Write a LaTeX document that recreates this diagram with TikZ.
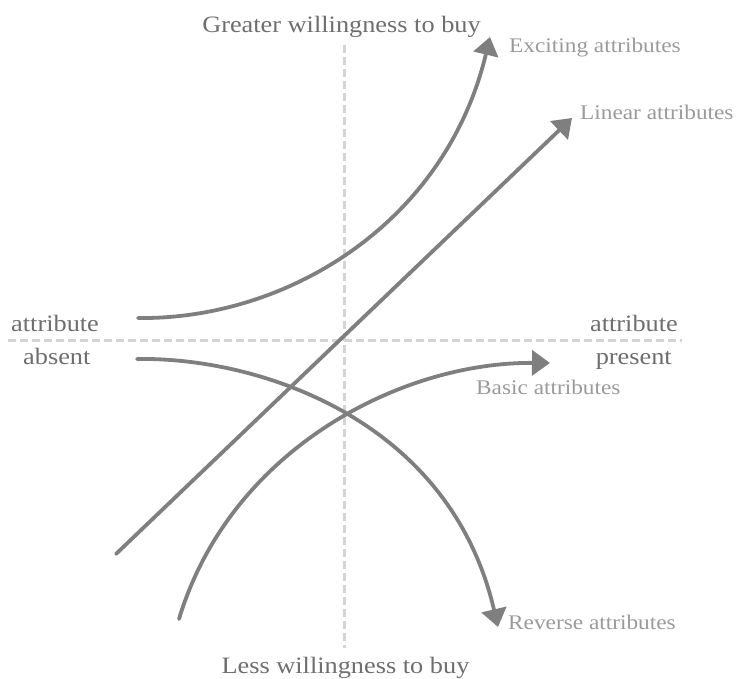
\documentclass[tikz,border=0pt]{standalone}
\usepackage{fontspec}
\setmainfont{Liberation Serif}[FakeStretch=1.12]
\usetikzlibrary{arrows.meta}
\definecolor{axistext}{HTML}{6E6E6E}
\definecolor{curvetext}{HTML}{9A9A9A}
\definecolor{curvecol}{HTML}{7F7F7F}
\definecolor{axiscol}{HTML}{D4D4D4}
\tikzset{
  axisline/.style={draw=axiscol, line width=3pt, dash pattern=on 8pt off 4pt},
  curve/.style={draw=curvecol, line width=3.8pt, -{Triangle[length=18pt,width=25pt]}},
  bigtext/.style={inner sep=0pt, text=axistext, font=\fontsize{23.5}{28}\selectfont},
  smalltext/.style={inner sep=0pt, text=curvetext, font=\fontsize{20.8}{25}\selectfont},
}
\begin{document}
\begin{tikzpicture}[x=1pt,y=-1pt]
\useasboundingbox (0,0) rectangle (737,679);
% axes
\coordinate (hl) at (8,341);
\coordinate (hr) at (682,341);
\coordinate (vt) at (344,45);
\coordinate (vb) at (344,648);
\draw[axisline] (hl) -- (hr);
\draw[axisline] (vt) -- (vb);
% axis labels
\node[bigtext, anchor=base] (greater) at (341.5,33) {Greater willingness to buy};
\node[bigtext, anchor=base] (less) at (345.5,673) {Less willingness to buy};
\node[bigtext, anchor=base west] (attrl) at (11,332) {attribute};
\node[bigtext, anchor=base west] (absent) at (23,365) {absent};
\node[bigtext, anchor=base east] (attrr) at (678,332) {attribute};
\node[bigtext, anchor=base east] (present) at (672,365) {present};
% curve endpoints
\coordinate (exS) at (138,318);
\coordinate (exE) at (490,37);
\coordinate (liS) at (116,554);
\coordinate (liE) at (572,118);
\coordinate (baS) at (179,619);
\coordinate (baE) at (550,363);
\coordinate (reS) at (137,359);
\coordinate (reE) at (498,627);
% curves
\draw[curve, line cap=round] (exS) .. controls (285,320) and (445,225) .. (exE);
\draw[curve, line cap=round] (liS) -- (liE);
\draw[curve, line cap=round] (baS) .. controls (230,450) and (400,362) .. (baE);
\draw[curve, line cap=round] (reS) .. controls (260,357) and (450,420) .. (reE);
% curve labels
\node[smalltext, anchor=base west] (exl) at (509,53) {Exciting attributes};
\node[smalltext, anchor=base west] (lil) at (580,120) {Linear attributes};
\node[smalltext, anchor=base west] (bal) at (476,394) {Basic attributes};
\node[smalltext, anchor=base west] (rel) at (508,629) {Reverse attributes};
\end{tikzpicture}
\end{document}
